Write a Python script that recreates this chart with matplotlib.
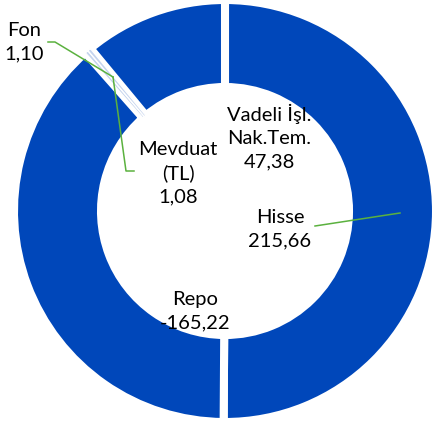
import numpy as np
import matplotlib.pyplot as plt

# veriler
kategoriler = ['Hisse', 'Repo', 'Fon', 'Mevduat\n(TL)', 'Vadeli İşl.\nNak.Tem.']
degerler = [215.66, -165.22, 1.10, 1.08, 47.38]

H = 421  # piksel -> veri (y yukari)


def py(y):
    return H - y


fig = plt.figure(figsize=(4.33, 4.21), dpi=100)
ax = fig.add_axes([0, 0, 1, 1])

renkler = ['#0047BA', '#0047BA', '#C5D4EE', '#C5D4EE', '#0047BA']
dilimler, _ = ax.pie(np.abs(degerler), colors=renkler, startangle=90, counterclock=False,
                     center=(225, py(211)), radius=211, frame=True,
                     wedgeprops=dict(width=87, edgecolor='white', linewidth=5.8))
# kucuk dilimler ince gorunsun
for i in (2, 3):
    dilimler[i].set_linewidth(1.0)
    dilimler[i].set_zorder(3)

ax.set_xlim(0, 433)
ax.set_ylim(0, H)
ax.set_aspect('equal')
ax.axis('off')

# etiketler
def etiket(v):
    return f'{v:.2f}'.replace('.', ',')

konumlar = [(280, 229), (195, 311), (24, 42), (178, 173), (269, 137)]
for ad, v, (x, y) in zip(kategoriler, degerler, konumlar):
    ax.text(x, py(y), ad + '\n' + etiket(v), ha='center', va='center',
            fontsize=14.5, family='Lato', linespacing=1.45, color='black', zorder=5)

# baglanti cizgileri
yesil = '#5BB13F'
ax.plot([315, 400], [py(226), py(213)], color=yesil, lw=1.1, zorder=4)
ax.plot([134, 126, 113], [py(171), py(171), py(77)], color=yesil, lw=1.1, zorder=4)
ax.plot([48, 55, 113], [py(42), py(42), py(77)], color=yesil, lw=1.1, zorder=4)

fig.savefig('out.png', dpi=100)
